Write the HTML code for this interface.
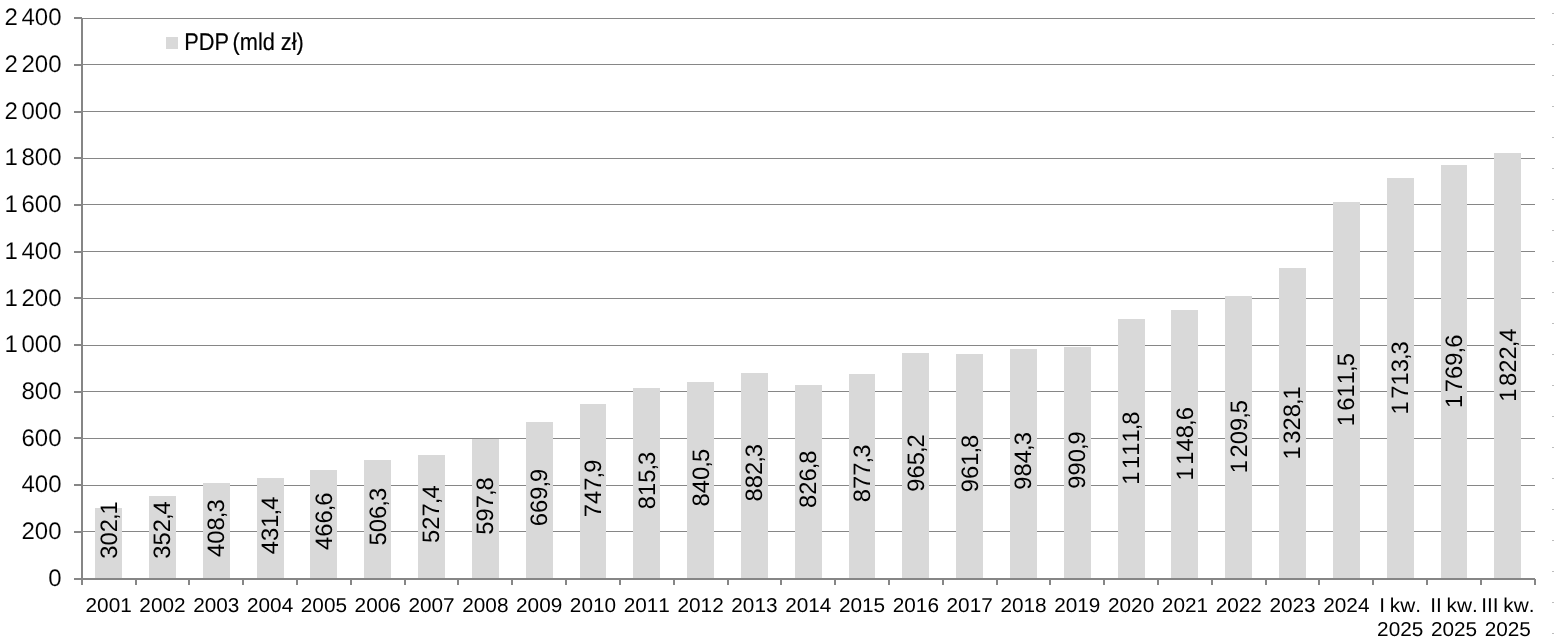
<!DOCTYPE html>
<html lang="pl"><head><meta charset="utf-8"><title>PDP (mld zł)</title>
<style>
html,body{margin:0;padding:0;background:#fff;}
body{width:1554px;height:643px;overflow:hidden;}
svg{display:block;font-family:"Liberation Sans", sans-serif;}
text{fill:#000;white-space:pre;font-kerning:none;font-variant-ligatures:none;text-rendering:geometricPrecision;paint-order:fill stroke;stroke-linejoin:round;}
.yl{font-size:24.0px;text-anchor:end;word-spacing:-3.0px;stroke:#fff;stroke-width:0.1px;}
.xl{font-size:20.0px;text-anchor:middle;word-spacing:-1.0px;}
.dl{font-size:23.8px;text-anchor:middle;word-spacing:-4.2px;}
.lg{font-size:24.2px;text-anchor:start;word-spacing:-1.0px;stroke:#000;stroke-width:0.2px;}
</style></head><body>
<svg width="1554" height="643" viewBox="0 0 1554 643">
<rect width="1554" height="643" fill="#fff"/>
<g fill="#868686" shape-rendering="crispEdges">
<rect x="83" y="531" width="1452" height="1"/>
<rect x="83" y="485" width="1452" height="1"/>
<rect x="83" y="438" width="1452" height="1"/>
<rect x="83" y="391" width="1452" height="1"/>
<rect x="83" y="345" width="1452" height="1"/>
<rect x="83" y="298" width="1452" height="1"/>
<rect x="83" y="251" width="1452" height="1"/>
<rect x="83" y="204" width="1452" height="1"/>
<rect x="83" y="158" width="1452" height="1"/>
<rect x="83" y="111" width="1452" height="1"/>
<rect x="83" y="64" width="1452" height="1"/>
<rect x="83" y="18" width="1452" height="1"/>
</g>
<g fill="#d9d9d9" shape-rendering="crispEdges">
<rect x="95" y="508" width="27" height="70"/>
<rect x="149" y="496" width="27" height="82"/>
<rect x="203" y="483" width="27" height="95"/>
<rect x="257" y="478" width="27" height="100"/>
<rect x="310" y="470" width="27" height="108"/>
<rect x="364" y="460" width="27" height="118"/>
<rect x="418" y="455" width="27" height="123"/>
<rect x="472" y="439" width="27" height="139"/>
<rect x="526" y="422" width="27" height="156"/>
<rect x="580" y="404" width="26" height="174"/>
<rect x="633" y="388" width="27" height="190"/>
<rect x="687" y="382" width="27" height="196"/>
<rect x="741" y="373" width="27" height="205"/>
<rect x="795" y="385" width="27" height="193"/>
<rect x="849" y="374" width="26" height="204"/>
<rect x="902" y="353" width="27" height="225"/>
<rect x="956" y="354" width="27" height="224"/>
<rect x="1010" y="349" width="27" height="229"/>
<rect x="1064" y="347" width="27" height="231"/>
<rect x="1118" y="319" width="27" height="259"/>
<rect x="1171" y="310" width="27" height="268"/>
<rect x="1225" y="296" width="27" height="282"/>
<rect x="1279" y="268" width="27" height="310"/>
<rect x="1333" y="202" width="27" height="376"/>
<rect x="1387" y="178" width="27" height="400"/>
<rect x="1441" y="165" width="26" height="413"/>
<rect x="1494" y="153" width="27" height="425"/>
</g>
<rect x="166" y="37" width="12" height="12" fill="#d9d9d9" shape-rendering="crispEdges"/>
<g fill="#868686" shape-rendering="crispEdges">
<rect x="81" y="18" width="2" height="567"/>
<rect x="74" y="578" width="1461" height="2"/>
<rect x="74" y="531" width="8" height="2"/>
<rect x="74" y="484" width="8" height="2"/>
<rect x="74" y="437" width="8" height="2"/>
<rect x="74" y="391" width="8" height="2"/>
<rect x="74" y="344" width="8" height="2"/>
<rect x="74" y="297" width="8" height="2"/>
<rect x="74" y="251" width="8" height="2"/>
<rect x="74" y="204" width="8" height="2"/>
<rect x="74" y="157" width="8" height="2"/>
<rect x="74" y="111" width="8" height="2"/>
<rect x="74" y="64" width="8" height="2"/>
<rect x="74" y="17" width="8" height="2"/>
<rect x="135" y="579" width="2" height="6"/>
<rect x="188" y="579" width="2" height="6"/>
<rect x="242" y="579" width="2" height="6"/>
<rect x="296" y="579" width="2" height="6"/>
<rect x="350" y="579" width="2" height="6"/>
<rect x="404" y="579" width="2" height="6"/>
<rect x="457" y="579" width="2" height="6"/>
<rect x="511" y="579" width="2" height="6"/>
<rect x="565" y="579" width="2" height="6"/>
<rect x="619" y="579" width="2" height="6"/>
<rect x="673" y="579" width="2" height="6"/>
<rect x="727" y="579" width="2" height="6"/>
<rect x="780" y="579" width="2" height="6"/>
<rect x="834" y="579" width="2" height="6"/>
<rect x="888" y="579" width="2" height="6"/>
<rect x="942" y="579" width="2" height="6"/>
<rect x="996" y="579" width="2" height="6"/>
<rect x="1049" y="579" width="2" height="6"/>
<rect x="1103" y="579" width="2" height="6"/>
<rect x="1157" y="579" width="2" height="6"/>
<rect x="1211" y="579" width="2" height="6"/>
<rect x="1265" y="579" width="2" height="6"/>
<rect x="1318" y="579" width="2" height="6"/>
<rect x="1372" y="579" width="2" height="6"/>
<rect x="1426" y="579" width="2" height="6"/>
<rect x="1480" y="579" width="2" height="6"/>
<rect x="1534" y="579" width="2" height="6"/>
</g>
<g fill="#bdbdbd" shape-rendering="crispEdges">
<rect x="1552" y="13" width="2" height="1"/>
<rect x="1552" y="44" width="2" height="1"/>
<rect x="1552" y="75" width="2" height="1"/>
<rect x="1552" y="106" width="2" height="1"/>
<rect x="1552" y="137" width="2" height="1"/>
<rect x="1552" y="168" width="2" height="1"/>
<rect x="1552" y="199" width="2" height="1"/>
<rect x="1552" y="230" width="2" height="1"/>
<rect x="1552" y="261" width="2" height="1"/>
<rect x="1552" y="292" width="2" height="1"/>
<rect x="1552" y="323" width="2" height="1"/>
<rect x="1552" y="354" width="2" height="1"/>
<rect x="1552" y="385" width="2" height="1"/>
<rect x="1552" y="416" width="2" height="1"/>
<rect x="1552" y="447" width="2" height="1"/>
<rect x="1552" y="478" width="2" height="1"/>
<rect x="1552" y="509" width="2" height="1"/>
<rect x="1552" y="540" width="2" height="1"/>
<rect x="1552" y="571" width="2" height="1"/>
<rect x="1552" y="602" width="2" height="1"/>
<rect x="1552" y="633" width="2" height="1"/>
</g>
<g class="yl">
<text transform="translate(61.5 585.81)">0</text>
<text transform="translate(61.5 539.11)">200</text>
<text transform="translate(61.5 492.40)">400</text>
<text transform="translate(61.5 445.69)">600</text>
<text transform="translate(61.5 398.99)">800</text>
<text transform="translate(61.5 352.28)">1 000</text>
<text transform="translate(61.5 305.58)">1 200</text>
<text transform="translate(61.5 258.87)">1 400</text>
<text transform="translate(61.5 212.17)">1 600</text>
<text transform="translate(61.5 165.46)">1 800</text>
<text transform="translate(61.5 118.75)">2 000</text>
<text transform="translate(61.5 72.05)">2 200</text>
<text transform="translate(61.5 25.34)">2 400</text>
</g>
<g class="xl">
<text transform="translate(108.65 612.0) scale(1.038 1)">2001</text>
<text transform="translate(162.46 612.0) scale(1.038 1)">2002</text>
<text transform="translate(216.27 612.0) scale(1.038 1)">2003</text>
<text transform="translate(270.09 612.0) scale(1.038 1)">2004</text>
<text transform="translate(323.90 612.0) scale(1.038 1)">2005</text>
<text transform="translate(377.72 612.0) scale(1.038 1)">2006</text>
<text transform="translate(431.53 612.0) scale(1.038 1)">2007</text>
<text transform="translate(485.35 612.0) scale(1.038 1)">2008</text>
<text transform="translate(539.16 612.0) scale(1.038 1)">2009</text>
<text transform="translate(592.97 612.0) scale(1.038 1)">2010</text>
<text transform="translate(646.79 612.0) scale(1.038 1)">2011</text>
<text transform="translate(700.60 612.0) scale(1.038 1)">2012</text>
<text transform="translate(754.41 612.0) scale(1.038 1)">2013</text>
<text transform="translate(808.23 612.0) scale(1.038 1)">2014</text>
<text transform="translate(862.04 612.0) scale(1.038 1)">2015</text>
<text transform="translate(915.86 612.0) scale(1.038 1)">2016</text>
<text transform="translate(969.67 612.0) scale(1.038 1)">2017</text>
<text transform="translate(1023.49 612.0) scale(1.038 1)">2018</text>
<text transform="translate(1077.30 612.0) scale(1.038 1)">2019</text>
<text transform="translate(1131.11 612.0) scale(1.038 1)">2020</text>
<text transform="translate(1184.93 612.0) scale(1.038 1)">2021</text>
<text transform="translate(1238.74 612.0) scale(1.038 1)">2022</text>
<text transform="translate(1292.56 612.0) scale(1.038 1)">2023</text>
<text transform="translate(1346.37 612.0) scale(1.038 1)">2024</text>
<text transform="translate(1400.18 612.0) scale(1.038 1)">I kw.</text>
<text transform="translate(1400.18 636.0) scale(1.038 1)">2025</text>
<text transform="translate(1454.00 612.0) scale(1.038 1)">II kw.</text>
<text transform="translate(1454.00 636.0) scale(1.038 1)">2025</text>
<text transform="translate(1507.81 612.0) scale(1.038 1)">III kw.</text>
<text transform="translate(1507.81 636.0) scale(1.038 1)">2025</text>
</g>
<g class="dl">
<text transform="translate(116.55 530.00) rotate(-90)" dx="0 0 0 -1.0 -1.0">302,1</text>
<text transform="translate(170.36 530.00) rotate(-90)" dx="0 0 0 -1.0 -1.0">352,4</text>
<text transform="translate(224.17 528.09) rotate(-90)" dx="0 0 0 -1.0 -1.0">408,3</text>
<text transform="translate(277.99 525.39) rotate(-90)" dx="0 0 0 -1.0 -1.0">431,4</text>
<text transform="translate(331.80 521.28) rotate(-90)" dx="0 0 0 -1.0 -1.0">466,6</text>
<text transform="translate(385.62 516.64) rotate(-90)" dx="0 0 0 -1.0 -1.0">506,3</text>
<text transform="translate(439.43 514.18) rotate(-90)" dx="0 0 0 -1.0 -1.0">527,4</text>
<text transform="translate(493.25 505.96) rotate(-90)" dx="0 0 0 -1.0 -1.0">597,8</text>
<text transform="translate(547.06 497.54) rotate(-90)" dx="0 0 0 -1.0 -1.0">669,9</text>
<text transform="translate(600.87 488.43) rotate(-90)" dx="0 0 0 -1.0 -1.0">747,9</text>
<text transform="translate(654.69 480.56) rotate(-90)" dx="0 0 0 -1.0 -1.0">815,3</text>
<text transform="translate(708.50 477.62) rotate(-90)" dx="0 0 0 -1.0 -1.0">840,5</text>
<text transform="translate(762.31 472.74) rotate(-90)" dx="0 0 0 -1.0 -1.0">882,3</text>
<text transform="translate(816.13 479.22) rotate(-90)" dx="0 0 0 -1.0 -1.0">826,8</text>
<text transform="translate(869.94 473.33) rotate(-90)" dx="0 0 0 -1.0 -1.0">877,3</text>
<text transform="translate(923.76 463.06) rotate(-90)" dx="0 0 0 -1.0 -1.0">965,2</text>
<text transform="translate(977.57 463.46) rotate(-90)" dx="0 0 0 -1.0 -1.0">961,8</text>
<text transform="translate(1031.38 460.83) rotate(-90)" dx="0 0 0 -1.0 -1.0">984,3</text>
<text transform="translate(1085.20 460.06) rotate(-90)" dx="0 0 0 -1.0 -1.0">990,9</text>
<text transform="translate(1139.01 448.04) rotate(-90)" dx="0 0 0 0 0 -1.0 -1.0">1 111,8</text>
<text transform="translate(1192.83 443.75) rotate(-90)" dx="0 0 0 0 0 -1.0 -1.0">1 148,6</text>
<text transform="translate(1246.64 436.64) rotate(-90)" dx="0 0 0 0 0 -1.0 -1.0">1 209,5</text>
<text transform="translate(1300.46 422.79) rotate(-90)" dx="0 0 0 0 0 -1.0 -1.0">1 328,1</text>
<text transform="translate(1354.27 389.70) rotate(-90)" dx="0 0 0 0 0 -1.0 -1.0">1 611,5</text>
<text transform="translate(1408.08 377.81) rotate(-90)" dx="0 0 0 0 0 -1.0 -1.0">1 713,3</text>
<text transform="translate(1461.90 371.24) rotate(-90)" dx="0 0 0 0 0 -1.0 -1.0">1 769,6</text>
<text transform="translate(1515.71 365.07) rotate(-90)" dx="0 0 0 0 0 -1.0 -1.0">1 822,4</text>
</g>
<text class="lg" transform="translate(184.2 49.8) scale(0.9 1)" dx="0 0 0 0 -1.8 0 0 0 0 0.9 0 0">PDP (mld zł)</text>
</svg>
</body></html>
